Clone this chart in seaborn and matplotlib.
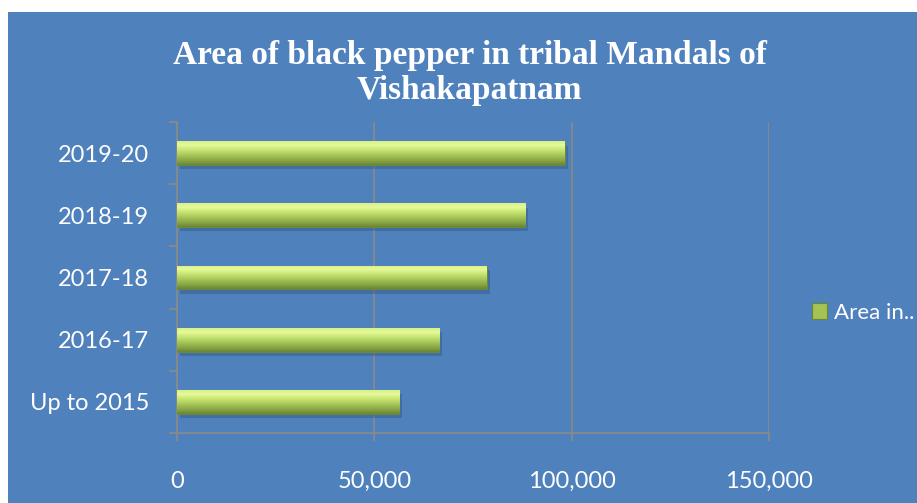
import numpy as np
import pandas as pd
import matplotlib
matplotlib.use("Agg")
import matplotlib.pyplot as plt
from matplotlib.patches import Rectangle, Patch
from matplotlib.colors import LinearSegmentedColormap
import matplotlib.ticker as mticker
import seaborn as sns

# ── data ─────────────────────────────────────────────────────────────────────
years = ["2019-20", "2018-19", "2017-18", "2016-17", "Up to 2015"]
area = [98300, 88300, 78500, 66400, 56300]
series_label = "Area in.."
title = "Area of black pepper in tribal Mandals of\nVishakapatnam"
x_ticks = [0, 50000, 100000, 150000]

BLUE = "#4F81BD"
GREEN = "#9BBB59"
GRID = "#8A8A8A"

sns.set_theme(style="white")
plt.rcParams["font.family"] = ["Lato", "DejaVu Sans"]

df = pd.DataFrame({"year": years, "area": area})

fig = plt.figure(figsize=(9.17, 5.03), dpi=100, facecolor="white")
fig.patches.append(Rectangle((8 / 917, 0), 1, 1 - 12 / 503, transform=fig.transFigure,
                             facecolor=BLUE, edgecolor="none", zorder=-10))
ax = fig.add_axes([177 / 917, 1 - 433 / 503, (769 - 177) / 917, (433 - 122) / 503])
ax.set_facecolor(BLUE)

sns.barplot(data=df, y="year", x="area", order=years, orient="h",
            color=GREEN, width=0.38, ax=ax, zorder=3, saturation=1)

# bevelled gradient on each bar (bright top edge -> dark bottom), clipped to the bar patches
bevel = LinearSegmentedColormap.from_list(
    "bevel", ["#D8F08A", "#E4FA98", "#CDE978", "#B4D463", "#9CBC52", "#86A443", "#6A8632"])
grad = np.linspace(0, 1, 64).reshape(-1, 1)
bars = list(ax.patches)
for p in bars:
    x0, y0 = p.get_x(), p.get_y()
    w, h = p.get_width(), p.get_height()
    # soft shadow
    ax.add_patch(Rectangle((x0 + 700, y0 + 0.07), w, h, facecolor="#2E4D75",
                           alpha=0.35, edgecolor="none", zorder=2))
    im = ax.imshow(grad, cmap=bevel, aspect="auto", extent=(x0, x0 + w, y0 + h, y0),
                   zorder=4, interpolation="bilinear")
    im.set_clip_path(p)
    p.set_edgecolor("#6A8632")
    p.set_linewidth(0.6)

ax.set_xlim(0, 150000)
ax.set_ylim(4.5, -0.5)
ax.set_xticks(x_ticks)
ax.xaxis.set_major_formatter(mticker.FuncFormatter(lambda v, _: f"{int(v):,}"))
ax.set_xlabel("")
ax.set_ylabel("")

ax.grid(axis="x", color=GRID, linewidth=1.2, zorder=1)
ax.grid(axis="y", visible=False)
for side in ["top", "right"]:
    ax.spines[side].set_visible(False)
for side in ["left", "bottom"]:
    ax.spines[side].set_color(GRID)
    ax.spines[side].set_linewidth(1.2)

ax.tick_params(axis="x", colors=GRID, length=6, width=1.2, direction="out",
               labelcolor="white", labelsize=17, pad=21, bottom=True)
ax.tick_params(axis="y", which="major", length=0, labelcolor="white",
               labelsize=17, pad=20)
ax.set_yticks(np.arange(-0.5, 5, 1), minor=True)
ax.tick_params(axis="y", which="minor", left=True, length=6, width=1.2, color=GRID)

fig.text(0.512, 1 - 73 / 503, title, ha="center", va="center", color="white",
         fontsize=24, fontweight="bold", family=["Liberation Serif", "DejaVu Serif"],
         linespacing=1.15)

handle = Patch(facecolor="#A3C453", edgecolor="#6A8632", linewidth=0.8)
ax.legend([handle], [series_label], loc="center left",
          bbox_to_anchor=(803 / 917, 1 - 313 / 503), bbox_transform=fig.transFigure,
          frameon=False, handlelength=0.7, handleheight=0.7, handletextpad=0.3,
          labelcolor="white", fontsize=16, borderaxespad=0)

fig.savefig("out.png", dpi=100, facecolor="white")
